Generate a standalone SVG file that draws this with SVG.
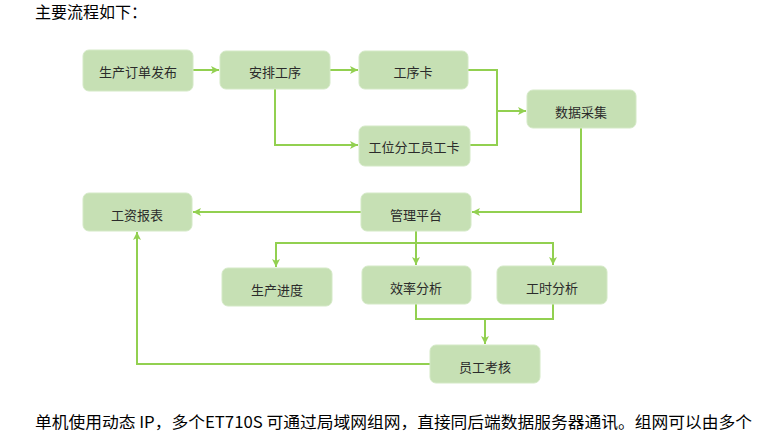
<svg xmlns="http://www.w3.org/2000/svg" width="760" height="441" viewBox="0 0 760 441">
<style>
.n{fill:#c6e0b4;stroke:#d4e9c6;stroke-width:1}
.t{font-family:"Noto Sans CJK SC","Microsoft YaHei",sans-serif;font-size:13px;fill:#2b2b2b;text-anchor:middle;dominant-baseline:central}
.c{fill:none;stroke:#92d050;stroke-width:2}
.p{font-family:"Noto Sans CJK SC",sans-serif;font-size:16px;fill:#000}
</style>
<defs>
<marker id="a" markerWidth="10" markerHeight="10" refX="9" refY="5" orient="auto" markerUnits="userSpaceOnUse">
<path d="M1,1 L9,5 L1,9 L3,5 z" fill="#92d050"/>
</marker>
</defs>
<rect width="760" height="441" fill="#fff"/>
<text class="p" x="35" y="18">主要流程如下：</text>
<g id="connectors">
<path class="c" d="M193,70 H219" marker-end="url(#a)"/>
<path class="c" d="M330,70 H358" marker-end="url(#a)"/>
<path class="c" d="M275,89 V145 H358" marker-end="url(#a)"/>
<path class="c" d="M468,70 H497 V145 H470"/>
<path class="c" d="M497,111 H526" marker-end="url(#a)"/>
<path class="c" d="M581,128 V212 H472" marker-end="url(#a)"/>
<path class="c" d="M361,212 H193" marker-end="url(#a)"/>
<path class="c" d="M416,231 V265" marker-end="url(#a)"/>
<path class="c" d="M416,243 H276 V267" marker-end="url(#a)"/>
<path class="c" d="M416,243 H553 V265" marker-end="url(#a)"/>
<path class="c" d="M416,304 V319 H553 V304"/>
<path class="c" d="M485,319 V344" marker-end="url(#a)"/>
<path class="c" d="M430,364 H137 V232" marker-end="url(#a)"/>
</g>
<g id="n1"><rect class="n" x="83" y="50" width="110" height="41" rx="6"/><text class="t" x="138" y="71">生产订单发布</text></g>
<g id="n2"><rect class="n" x="220" y="51" width="110" height="38" rx="6"/><text class="t" x="275" y="71">安排工序</text></g>
<g id="n3"><rect class="n" x="359" y="51" width="109" height="38" rx="6"/><text class="t" x="413" y="71">工序卡</text></g>
<g id="n4"><rect class="n" x="359" y="126" width="111" height="40" rx="6"/><text class="t" x="414" y="146">工位分工员工卡</text></g>
<g id="n5"><rect class="n" x="527" y="90" width="109" height="38" rx="6"/><text class="t" x="581" y="111">数据采集</text></g>
<g id="n6"><rect class="n" x="361" y="193" width="110" height="38" rx="6"/><text class="t" x="416" y="214">管理平台</text></g>
<g id="n7"><rect class="n" x="83" y="193" width="109" height="38" rx="6"/><text class="t" x="137" y="214">工资报表</text></g>
<g id="n8"><rect class="n" x="222" y="268" width="110" height="38" rx="6"/><text class="t" x="277" y="289">生产进度</text></g>
<g id="n9"><rect class="n" x="362" y="266" width="109" height="38" rx="6"/><text class="t" x="416" y="287">效率分析</text></g>
<g id="n10"><rect class="n" x="497" y="266" width="110" height="38" rx="6"/><text class="t" x="552" y="287">工时分析</text></g>
<g id="n11"><rect class="n" x="430" y="345" width="110" height="38" rx="6"/><text class="t" x="485" y="366">员工考核</text></g>
<text class="p" x="35" y="428" textLength="717" lengthAdjust="spacingAndGlyphs">单机使用动态 IP，多个ET710S 可通过局域网组网，直接同后端数据服务器通讯。组网可以由多个</text>
</svg>
